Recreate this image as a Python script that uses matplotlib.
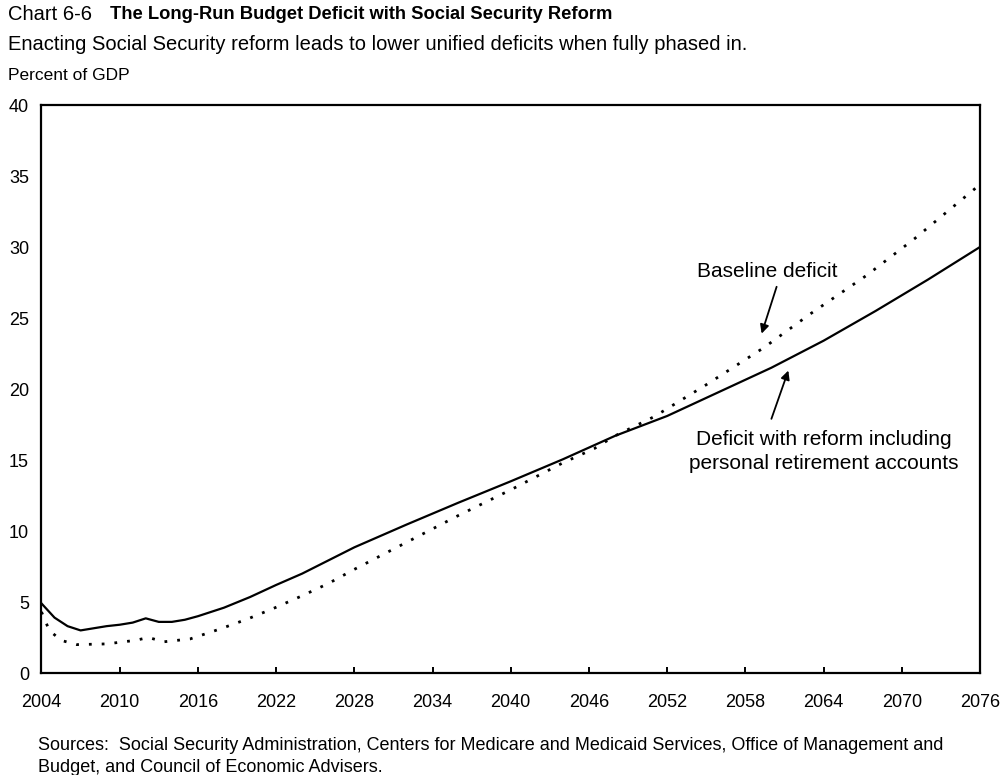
import matplotlib
matplotlib.use("Agg")
from matplotlib import pyplot as plt

plt.rcParams['font.family'] = ['Liberation Sans', 'DejaVu Sans']

# deficit with reform including personal retirement accounts (percent of GDP)
reform_years = [2004, 2005, 2006, 2007, 2008, 2009, 2010, 2011, 2012, 2013, 2014, 2015,
                2016, 2018, 2020, 2022, 2024, 2028, 2032, 2036, 2040, 2044, 2048,
                2052, 2056, 2060, 2064, 2068, 2072, 2076]
reform = [4.9, 3.9, 3.3, 3.0, 3.15, 3.3, 3.4, 3.55, 3.85, 3.6, 3.6, 3.75,
          4.0, 4.6, 5.35, 6.2, 7.0, 8.85, 10.45, 12.0, 13.5, 15.05, 16.7,
          18.1, 19.8, 21.5, 23.4, 25.5, 27.7, 30.0]

# baseline deficit
base_years = [2004, 2004.6, 2005.5, 2006.7, 2009, 2011.2, 2012.2, 2013.4, 2015.4, 2017.7,
              2019.8, 2021.8, 2023.9, 2026, 2028, 2032, 2036, 2040, 2044, 2046.4, 2048,
              2051, 2055, 2059.4, 2063, 2067.3, 2071, 2076]
baseline = [4.3, 3.0, 2.3, 2.0, 2.05, 2.3, 2.5, 2.2, 2.4, 3.1,
            3.8, 4.55, 5.4, 6.3, 7.3, 9.2, 11.1, 12.9, 14.8, 15.8, 16.7,
            18.05, 20.3, 22.9, 25.3, 28.0, 30.6, 34.4]

xticks = list(range(2004, 2077, 6))
yticks = [0, 5, 10, 15, 20, 25, 30, 35, 40]

fig = plt.figure(figsize=(10.02, 7.75), dpi=100)
ax = fig.add_axes([0.0414, 0.1316, 0.9366, 0.7329])

ax.plot(reform_years, reform, color='black', lw=1.6)
ax.plot(base_years, baseline, color='black', lw=2.0, linestyle=(0, (1, 3.6)))

ax.set_xlim(2004, 2076)
ax.set_ylim(0, 40)
ax.set_xticks(xticks)
ax.set_yticks(yticks)
ax.tick_params(axis='x', direction='in', length=4.5, width=1.4, pad=15, labelsize=13)
ax.tick_params(axis='y', length=0, pad=9, labelsize=13)
for s in ax.spines.values():
    s.set_linewidth(1.6)

arrow = dict(arrowstyle='-|>', color='black', lw=1.3, mutation_scale=13, shrinkA=0, shrinkB=0)
ax.annotate('', xy=(2059.25, 23.9), xytext=(2060.4, 27.2), arrowprops=arrow)
ax.annotate('', xy=(2061.3, 21.3), xytext=(2060.0, 17.9), arrowprops=arrow)
ax.text(2059.65, 28.3, 'Baseline deficit', ha='center', va='center', fontsize=15)
ax.text(2064.0, 15.6, 'Deficit with reform including\npersonal retirement accounts',
        ha='center', va='center', fontsize=15, linespacing=1.3)

fig.text(0.008, 0.981, 'Chart 6-6', fontsize=14.5, va='center')
fig.text(0.110, 0.981, 'The Long-Run Budget Deficit with Social Security Reform',
         fontsize=13.2, fontweight='bold', va='center')
fig.text(0.008, 0.943, 'Enacting Social Security reform leads to lower unified deficits when fully phased in.',
         fontsize=14.5, va='center')
fig.text(0.008, 0.903, 'Percent of GDP', fontsize=12.5, va='center')
fig.text(0.038, 0.049, 'Sources:  Social Security Administration, Centers for Medicare and Medicaid Services, Office of Management and\nBudget, and Council of Economic Advisers.',
         fontsize=13, va='top', linespacing=1.4)

plt.savefig('out.png')
plt.close()
